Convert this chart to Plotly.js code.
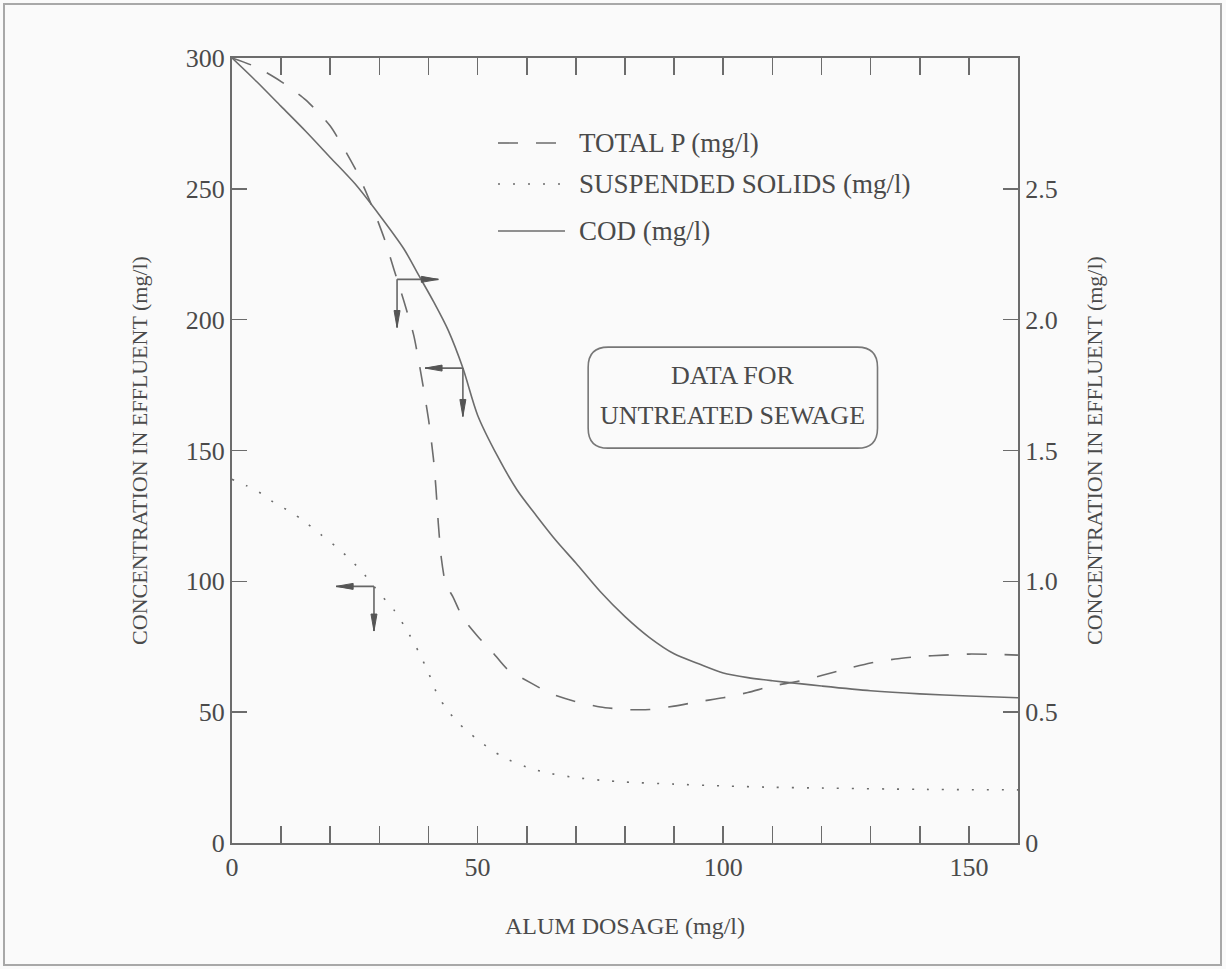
<!DOCTYPE html>
<html>
<head>
<meta charset="utf-8">
<script src="https://cdn.plot.ly/plotly-3.0.1.min.js"></script>
<style>
  html, body { margin: 0; padding: 0; background: #fafafa; }
  #chart { width: 1226px; height: 969px; }
</style>
</head>
<body>
<div id="chart"></div>
<script>
// Alum dosage (mg/l) versus effluent concentrations
const codDose = [0, 5, 10, 15, 20, 25, 30, 35, 38, 41, 44, 47, 50, 54, 58, 62, 66, 70, 75, 80, 85, 90, 95, 100, 105, 110, 115, 120, 130, 140, 150, 160];
const codValue = [300, 291, 281.5, 272, 262, 252, 240, 227, 217, 207, 196, 181.5, 163.5, 148, 135, 125, 115.5, 107, 96, 86.5, 78.5, 72.3, 68.5, 65, 63.2, 62, 61, 60, 58.2, 57, 56.2, 55.5];

const ssDose = [0, 3, 6, 9, 12, 15, 18, 21, 24, 27, 30, 33, 36, 38, 40, 42, 44, 46, 50, 55, 60, 65, 70, 75, 80, 90, 100, 110, 120, 140, 160];
const ssValue = [139, 136.5, 133.5, 129.5, 126.5, 122.5, 118, 113.5, 108.5, 102.5, 95.5, 89, 80, 73, 65, 56, 50.5, 46, 39.5, 33, 29, 26.5, 25, 24, 23.3, 22.5, 21.8, 21.3, 21, 20.5, 20.3];

const tpDose = [0, 5, 10, 15, 20, 25, 27, 29, 31, 33, 35, 37, 38.5, 40, 41, 41.5, 42, 42.6, 43.5, 45, 47, 50, 53, 56, 61, 65, 70, 75, 80, 85, 90, 95, 100, 105, 110, 115, 120, 125, 130, 135, 140, 145, 150, 155, 160];
const tpValue = [3.00, 2.965, 2.91, 2.84, 2.74, 2.58, 2.50, 2.41, 2.31, 2.19, 2.07, 1.94, 1.79, 1.62, 1.47, 1.36, 1.22, 1.09, 0.99, 0.94, 0.86, 0.79, 0.73, 0.665, 0.61, 0.57, 0.54, 0.52, 0.51, 0.51, 0.523, 0.54, 0.555, 0.575, 0.60, 0.617, 0.64, 0.665, 0.688, 0.703, 0.713, 0.718, 0.722, 0.721, 0.718];

// Axis ticks and labels
const xTickVals = [0, 10, 20, 30, 40, 50, 60, 70, 80, 90, 100, 110, 120, 130, 140, 150, 160];
const xTickText = ['0', '', '', '', '', '50', '', '', '', '', '100', '', '', '', '', '150', ''];
const yLeftTicks = [0, 50, 100, 150, 200, 250, 300];
const yRightTicks = [0, 0.5, 1.0, 1.5, 2.0, 2.5];
const yRightText = ['0', '0.5', '1.0', '1.5', '2.0', '2.5'];

// Legend entries
const legendNames = ['TOTAL P (mg/l)', 'SUSPENDED SOLIDS (mg/l)', 'COD (mg/l)'];

// Pointer arrows: which curve, dose at the corner, end of the horizontal leg, end of the downward leg
const arrowSeries = ['tp', 'cod', 'ss'];
const arrowDose = [33.6, 47.0, 28.9];
const arrowHorizEnd = [42.0, 39.3, 21.2];
const arrowVertEnd = [197, 163, 81];

// Page geometry
const W = 1226, H = 969;
const M = { l: 232, r: 208, t: 58, b: 126 };
const plotW = W - M.l - M.r, plotH = H - M.t - M.b;
const X_MAX = 160, Y_MAX = 300, Y2_MAX = 3;
const pxX = plotW / X_MAX, pxY = plotH / Y_MAX;
const scale2 = Y_MAX / Y2_MAX;

const INK = '#4a4a4a';
const LINE = '#6c6c6c';
const FONT = 'Liberation Serif, Times New Roman, serif';

function interp(xs, ys, x) {
  for (let i = 1; i < xs.length; i++) {
    if (x <= xs[i]) {
      const t = (x - xs[i - 1]) / (xs[i] - xs[i - 1]);
      return ys[i - 1] + t * (ys[i] - ys[i - 1]);
    }
  }
  return ys[ys.length - 1];
}

const seriesLeft = {
  cod: (x) => interp(codDose, codValue, x),
  ss: (x) => interp(ssDose, ssValue, x),
  tp: (x) => interp(tpDose, tpValue, x) * scale2
};

const lineStyle = {
  tp: { color: LINE, width: 1.6, dash: '20px,18px' },
  ss: { color: LINE, width: 1.6, dash: '2px,13px' },
  cod: { color: LINE, width: 1.6 }
};

const traces = [
  { x: tpDose, y: tpValue, yaxis: 'y2', mode: 'lines', name: legendNames[0],
    line: Object.assign({ shape: 'spline', smoothing: 0.6 }, lineStyle.tp), hoverinfo: 'skip' },
  { x: ssDose, y: ssValue, mode: 'lines', name: legendNames[1],
    line: Object.assign({ shape: 'spline', smoothing: 0.8 }, lineStyle.ss), hoverinfo: 'skip' },
  { x: codDose, y: codValue, mode: 'lines', name: legendNames[2],
    line: Object.assign({ shape: 'spline', smoothing: 0.8 }, lineStyle.cod), hoverinfo: 'skip' }
];

const shapes = [];
const annotations = [];

// Outer frame around the figure
shapes.push({
  type: 'rect', xref: 'paper', yref: 'paper', layer: 'below',
  x0: (4 - M.l) / plotW, x1: (W - 5 - M.l) / plotW,
  y0: (M.t + plotH - (H - 4)) / plotH, y1: (M.t + plotH - 4) / plotH,
  line: { color: '#a8a8a8', width: 2 }
});

// Legend drawn inside the plot
const legendRowsPx = [143, 184, 231];
const legendKeys = ['tp', 'ss', 'cod'];
legendKeys.forEach((k, i) => {
  const py = (M.t + plotH - legendRowsPx[i]) / plotH;
  shapes.push({
    type: 'line', xref: 'paper', yref: 'paper',
    x0: (498 - M.l) / plotW, x1: (565 - M.l) / plotW, y0: py, y1: py,
    line: lineStyle[k]
  });
  annotations.push({
    xref: 'paper', yref: 'paper', x: (577 - M.l) / plotW, y: py,
    xanchor: 'left', yanchor: 'middle', showarrow: false,
    text: legendNames[i], font: { family: FONT, size: 27, color: INK }
  });
});

// Rounded note box
const box = { x0: 72.5, x1: 131.4, y0: 150.9, y1: 189.5 };
const rx = 20 / pxX, ry = 20 / pxY;
shapes.push({
  type: 'path', xref: 'x', yref: 'y',
  path: `M ${box.x0 + rx},${box.y1} L ${box.x1 - rx},${box.y1} Q ${box.x1},${box.y1} ${box.x1},${box.y1 - ry} ` +
        `L ${box.x1},${box.y0 + ry} Q ${box.x1},${box.y0} ${box.x1 - rx},${box.y0} ` +
        `L ${box.x0 + rx},${box.y0} Q ${box.x0},${box.y0} ${box.x0},${box.y0 + ry} ` +
        `L ${box.x0},${box.y1 - ry} Q ${box.x0},${box.y1} ${box.x0 + rx},${box.y1} Z`,
  line: { color: '#777', width: 1.6 }
});
const boxMid = (box.x0 + box.x1) / 2;
[['DATA FOR', 178.8], ['UNTREATED SEWAGE', 163.5]].forEach(([t, y]) => {
  annotations.push({
    xref: 'x', yref: 'y', x: boxMid, y: y, showarrow: false,
    xanchor: 'center', yanchor: 'middle', text: t,
    font: { family: FONT, size: 26, color: INK }
  });
});

// L-shaped pointers with narrow filled heads
const headLen = 17, headHalf = 3;
function head(xt, yt, dir) {
  let pts;
  if (dir === 'right' || dir === 'left') {
    const s = dir === 'right' ? 1 : -1;
    const bx = xt - s * headLen / pxX;
    pts = [[xt, yt], [bx, yt + headHalf / pxY], [bx, yt - headHalf / pxY]];
  } else {
    const by = yt + headLen / pxY;
    pts = [[xt, yt], [xt - headHalf / pxX, by], [xt + headHalf / pxX, by]];
  }
  return {
    type: 'path', xref: 'x', yref: 'y',
    path: `M ${pts[0][0]},${pts[0][1]} L ${pts[1][0]},${pts[1][1]} L ${pts[2][0]},${pts[2][1]} Z`,
    fillcolor: '#555', line: { color: '#555', width: 1 }
  };
}
arrowSeries.forEach((k, i) => {
  const cx = arrowDose[i];
  const cy = seriesLeft[k](cx);
  const hx = arrowHorizEnd[i];
  const vy = arrowVertEnd[i];
  shapes.push({ type: 'line', xref: 'x', yref: 'y', x0: cx, y0: cy, x1: hx, y1: cy, line: { color: '#666', width: 1.6 } });
  shapes.push({ type: 'line', xref: 'x', yref: 'y', x0: cx, y0: cy, x1: cx, y1: vy, line: { color: '#666', width: 1.6 } });
  shapes.push(head(hx, cy, hx > cx ? 'right' : 'left'));
  shapes.push(head(cx, vy, 'down'));
});

const tickFont = { family: FONT, size: 26, color: INK };
const titleFont = { family: FONT, size: 22, color: INK };

const layout = {
  width: W, height: H,
  margin: M,
  paper_bgcolor: '#fafafa',
  plot_bgcolor: '#fafafa',
  showlegend: false,
  xaxis: {
    range: [0, X_MAX], tickmode: 'array', tickvals: xTickVals, ticktext: xTickText,
    ticks: 'inside', ticklen: 17, tickwidth: 1.6, tickcolor: LINE,
    showline: true, linecolor: LINE, linewidth: 2, mirror: 'ticks',
    showgrid: false, zeroline: false, tickfont: tickFont,
    title: { text: 'ALUM DOSAGE (mg/l)', font: { family: FONT, size: 24, color: INK }, standoff: 36 }
  },
  yaxis: {
    range: [0, Y_MAX], tickmode: 'array', tickvals: yLeftTicks,
    ticks: 'inside', ticklen: 15, tickwidth: 1.6, tickcolor: LINE,
    showline: true, linecolor: LINE, linewidth: 2,
    showgrid: false, zeroline: false, tickfont: tickFont,
    title: { text: 'CONCENTRATION IN EFFLUENT (mg/l)', font: titleFont, standoff: 32 }
  },
  yaxis2: {
    range: [0, Y2_MAX], overlaying: 'y', side: 'right',
    tickmode: 'array', tickvals: yRightTicks, ticktext: yRightText,
    ticks: 'inside', ticklen: 15, tickwidth: 1.6, tickcolor: LINE,
    showline: true, linecolor: LINE, linewidth: 2,
    showgrid: false, zeroline: false, tickfont: tickFont,
    title: { text: 'CONCENTRATION IN EFFLUENT (mg/l)', font: titleFont, standoff: 30 }
  },
  shapes: shapes,
  annotations: annotations
};

Plotly.newPlot('chart', traces, layout, { staticPlot: true, displayModeBar: false });
</script>
</body>
</html>
